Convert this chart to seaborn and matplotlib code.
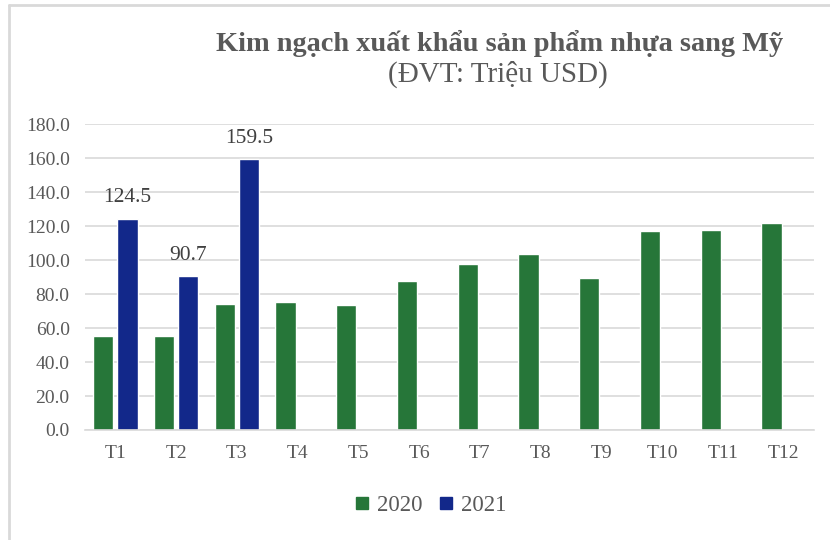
import pandas as pd
import numpy as np
import matplotlib
matplotlib.use('Agg')
import matplotlib.pyplot as plt
import seaborn as sns
from matplotlib.lines import Line2D

# Data (million USD)
months = ['T1', 'T2', 'T3', 'T4', 'T5', 'T6', 'T7', 'T8', 'T9', 'T10', 'T11', 'T12']
values_2020 = [55.6, 55.1, 74.0, 75.6, 73.7, 87.6, 97.6, 103.8, 89.7, 117.4, 117.6, 121.8]
values_2021 = [124.5, 90.7, 159.5]
years = ['2020', '2021']
colors = ['#267639', '#12288A']

# Long format table for seaborn
df = pd.DataFrame({
    'month': months * 2,
    'year': ['2020'] * len(months) + ['2021'] * len(months),
    'value': values_2020 + values_2021 + [np.nan] * (len(months) - len(values_2021)),
})

sns.set_theme(style='white')
plt.rcParams['font.family'] = ['Liberation Serif', 'DejaVu Serif']
text_grey = '#595959'

fig = plt.figure(figsize=(8.3, 5.4), dpi=100)
ax = fig.add_axes([85 / 830, 110 / 540, (814 - 85) / 830, (430 - 124.3) / 540])

sns.barplot(data=df, x='month', y='value', hue='year', hue_order=years,
            palette=colors, width=0.8, gap=0.17, saturation=1,
            order=months, ax=ax, legend=True)

# value labels only on the 2021 bars
ax.bar_label(ax.containers[1], fmt='%.1f', padding=8, fontsize=15.5, color='#404040')

ax.set_ylim(0, 180)
ax.set_xlim(-0.5, len(months) - 0.5)
ax.set_yticks(np.arange(0, 181, 20))
ax.set_yticklabels([f'{v:.1f}' for v in np.arange(0, 181, 20)])
ax.yaxis.grid(True, color='#D9D9D9', linewidth=1.2)
ax.set_axisbelow(True)
ax.tick_params(axis='both', length=0, labelsize=14, colors=text_grey)
ax.tick_params(axis='x', pad=11)
ax.tick_params(axis='y', pad=11)
ax.set_xlabel('')
ax.set_ylabel('')
for side in ['top', 'right', 'left']:
    ax.spines[side].set_visible(False)
ax.spines['bottom'].set_color('#D9D9D9')
ax.spines['bottom'].set_linewidth(1.2)

# legend at the bottom
ax.get_legend().remove()
handles = [Line2D([], [], marker='s', linestyle='', markersize=9, color=c) for c in colors]
fig.legend(handles, years, loc='center', bbox_to_anchor=(430 / 830, 1 - 505 / 540),
           ncol=2, frameon=False, fontsize=16.5, handlelength=0.7, handletextpad=0.3,
           columnspacing=0.7, labelcolor=text_grey)

# titles
fig.text(500 / 830, 1 - 43 / 540, 'Kim ngạch xuất khẩu sản phẩm nhựa sang Mỹ',
         ha='center', va='center', fontsize=20.4, fontweight='bold', color=text_grey)
fig.text(498 / 830, 1 - 74 / 540, '(ĐVT: Triệu USD)',
         ha='center', va='center', fontsize=21, color=text_grey)

# partial frame of the cropped chart
fig.add_artist(Line2D([9 / 830, 9 / 830], [0, 1 - 5 / 540], color='#D9D9D9', linewidth=2,
                      transform=fig.transFigure))
fig.add_artist(Line2D([9 / 830, 1], [1 - 5 / 540, 1 - 5 / 540], color='#D9D9D9', linewidth=2,
                      transform=fig.transFigure))

fig.savefig('out.png', dpi=100)
